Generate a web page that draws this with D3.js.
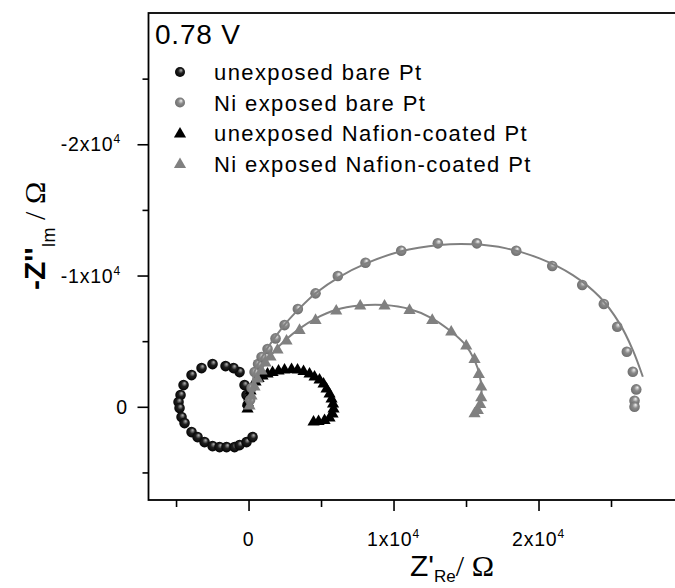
<!DOCTYPE html>
<html><head><meta charset="utf-8">
<script src="https://cdn.jsdelivr.net/npm/d3@7"></script>
<style>
body{margin:0;background:#fff}
text{font-family:"Liberation Sans",Arial,sans-serif;fill:#000}
</style>
</head><body>
<svg id="chart" width="675" height="588"></svg>
<script>
// ---- data (Z'_Re, plotted Z''_Im axis value) ----
const seriesNames = ["unexposed bare Pt","Ni exposed bare Pt","unexposed Nafion-coated Pt","Ni exposed Nafion-coated Pt"];
const potentialLabel = "0.78 V";

const bareUnexpX = [-70,-138,-276,-621,-1035,-1586,-2483,-3241,-3931,-4483,-4690,-4828,-4759,-4621,-4414,-3931,-3517,-3035,-2483,-2000,-1517,-966,-621,-138,276];
const bareUnexpY = [-130,-892,-1654,-2644,-2949,-3101,-3254,-2949,-2415,-1654,-892,-358,99,785,1242,1928,2309,2690,2995,3071,3071,3071,2918,2690,2309];

const bareNiX = [103,207,414,655,897,1310,1862,2483,3400,4621,6159,8069,10532,13056,15746,18463,20946,23015,24505,25429,26091,26505,26739,26622,26622];
const bareNiY = [-511,-1425,-2644,-3254,-3787,-4397,-5212,-6225,-7444,-8641,-9960,-10973,-11887,-12451,-12451,-11887,-10721,-9274,-7826,-6096,-4191,-2667,-1326,-457,0];
const bareNiFitX = [69,172,276,414,1221,2366,3517,4669,6277,8118,10414,13173,15470,17773,20070,22367,24208,25588,26505,27195];
const bareNiFitY = [99,-892,-1806,-2667,-4321,-6096,-7498,-8687,-9906,-10927,-11811,-12322,-12375,-12070,-11308,-10035,-8382,-6355,-4321,-2286];

const nafUnexpX = [-69,-34,34,138,276,483,690,966,1310,1655,2069,2483,2966,3379,3793,4207,4552,4897,5173,5380,5587,5725,5828,5862,5793,5587,5242,4828,4483];
const nafUnexpY = [99,-358,-815,-1273,-1654,-1958,-2225,-2416,-2568,-2682,-2797,-2873,-2911,-2873,-2758,-2568,-2339,-2111,-1806,-1425,-1044,-663,-282,99,480,785,975,1052,1090];

const nafNiX = [69,207,414,621,897,1172,1517,2000,2621,3517,4621,6049,7704,9380,11104,12670,13980,15015,15587,15884,16049,16049,15980,15815,15587];
const nafNiY = [-130,-892,-1577,-2187,-2797,-3406,-3863,-4397,-5083,-5898,-6660,-7369,-7750,-7750,-7422,-6660,-5768,-4702,-3688,-2545,-1577,-762,-259,198,457];
const nafNiFitX = [69,276,621,1104,1793,2621,3517,4621,6000,7656,9380,11104,12622,13932,14967,15587,15932,16070,16036];
const nafNiFitY = [99,-1273,-2263,-3254,-4244,-5159,-5959,-6721,-7369,-7712,-7750,-7445,-6759,-5768,-4702,-3559,-2415,-1273,-206];

const xMajorTicks = [0,10000,20000];
const xMinorTicks = [-5000,5000,15000,25000];
const yMajorTicks = [0,-10000,-20000];
const yMinorTicks = [5000,-5000,-15000,-25000];

// ---- drawing ----
const svg = d3.select("#chart");
const L = 148.5, T = 13, B = 500, R = 683.5;
const x = d3.scaleLinear().domain([-6900, 30000]).range([L, R]);
const y = d3.scaleLinear().domain([7100, -30000]).range([B, T]);

const defs = svg.append("defs");
function sphereGrad(id, hi, mid, lo){
  const g = defs.append("radialGradient").attr("id", id)
    .attr("cx","50%").attr("cy","50%").attr("r","55%").attr("fx","62%").attr("fy","30%");
  g.append("stop").attr("offset","0%").attr("stop-color",hi);
  g.append("stop").attr("offset","45%").attr("stop-color",mid);
  g.append("stop").attr("offset","100%").attr("stop-color",lo);
}
sphereGrad("gBlack","#b8b8b8","#202020","#000");
sphereGrad("gGray","#f4f4f4","#8a8a8a","#6a6a6a");
defs.append("clipPath").attr("id","plotClip").append("rect")
  .attr("x",L).attr("y",T).attr("width",R-L).attr("height",B-T);

svg.append("rect").attr("width",675).attr("height",588).attr("fill","#fff");

// ticks
function tickAxis(axis, vals, size, tx, ty){
  const g = svg.append("g").attr("transform",`translate(${tx},${ty})`)
    .call(axis.tickValues(vals).tickSize(size).tickSizeOuter(0).tickFormat(""));
  g.select(".domain").remove();
  g.selectAll(".tick line").attr("stroke","#000").attr("stroke-width",1.6);
  return g;
}
tickAxis(d3.axisBottom(x), xMajorTicks, 11, 0, B);
tickAxis(d3.axisBottom(x), xMinorTicks, 7, 0, B);
tickAxis(d3.axisLeft(y), yMajorTicks, 11, L, 0);
tickAxis(d3.axisLeft(y), yMinorTicks, 6, L, 0);

// tick labels
function label(g, v){
  if (v === 0) { g.append("tspan").text("0"); return; }
  g.append("tspan").text(`${v/10000}x10`);
  g.append("tspan").attr("dy",-8).attr("font-size",12).text("4");
}
xMajorTicks.forEach(v=>{
  const t = svg.append("text").attr("x", x(v)).attr("y", 546)
    .attr("text-anchor","middle").attr("font-size",19.5).attr("letter-spacing",0.8);
  label(t, v);
});
yMajorTicks.forEach(v=>{
  const t = svg.append("text").attr("x", v===0 ? 128 : 121).attr("y", y(v)+7)
    .attr("text-anchor","end").attr("font-size",19.5).attr("letter-spacing",0.8);
  label(t, v);
});

// frame
svg.append("rect").attr("x",L).attr("y",T).attr("width",R-L).attr("height",B-T)
  .attr("fill","none").attr("stroke","#000").attr("stroke-width",1.8);

// axis titles
const xt = svg.append("text").attr("x",410).attr("y",576).attr("font-size",30);
xt.append("tspan").text("Z'");
xt.append("tspan").attr("font-size",17).attr("dy",6).text("Re");
xt.append("tspan").attr("dy",-6).attr("font-family","'Liberation Serif','Times New Roman',serif").text("/ Ω");

const yt = svg.append("text").attr("transform","translate(45,290) rotate(-90)").attr("font-size",30);
yt.append("tspan").attr("font-weight","bold").text("-Z''");
yt.append("tspan").attr("font-size",18).attr("dy",10).text("Im");
yt.append("tspan").attr("dy",-10).attr("font-family","'Liberation Serif','Times New Roman',serif").text(" / Ω");

// data
const plot = svg.append("g").attr("clip-path","url(#plotClip)");
const lineGen = d3.line().x(d=>x(d[0])).y(d=>y(d[1])).curve(d3.curveCatmullRom);
const zip = (a,b)=>a.map((v,i)=>[v,b[i]]);
const tri = d3.symbol().type(d3.symbolTriangle).size(64);

function spheres(X, Y, grad){
  plot.append("g").selectAll("circle").data(zip(X,Y)).join("circle")
    .attr("cx",d=>x(d[0])).attr("cy",d=>y(d[1])).attr("r",5.3).attr("fill",`url(#${grad})`);
}
function triangles(X, Y, col){
  plot.append("g").selectAll("path").data(zip(X,Y)).join("path")
    .attr("d",tri).attr("transform",d=>`translate(${x(d[0])},${y(d[1])+1})`).attr("fill",col);
}
spheres(bareUnexpX, bareUnexpY, "gBlack");
triangles(nafUnexpX, nafUnexpY, "#000");
spheres(bareNiX, bareNiY, "gGray");
triangles(nafNiX, nafNiY, "#808080");
plot.append("path").datum(zip(bareNiFitX, bareNiFitY)).attr("d",lineGen)
  .attr("fill","none").attr("stroke","#808080").attr("stroke-width",2);
plot.append("path").datum(zip(nafNiFitX, nafNiFitY)).attr("d",lineGen)
  .attr("fill","none").attr("stroke","#808080").attr("stroke-width",2);

// legend
svg.append("text").attr("x",155).attr("y",44).attr("font-size",28).attr("letter-spacing",0.8).text(potentialLabel);
const legRows = [72, 102.5, 133, 163.5];
const legMarks = ["sBlack","sGray","tBlack","tGray"];
seriesNames.forEach((name,i)=>{
  const cy = legRows[i];
  const m = legMarks[i];
  if (m[0]==="s") {
    svg.append("circle").attr("cx",180).attr("cy",cy).attr("r",5)
      .attr("fill", m==="sBlack" ? "url(#gBlack)" : "url(#gGray)");
  } else {
    svg.append("path").attr("d",tri).attr("transform",`translate(180,${cy+1})`)
      .attr("fill", m==="tBlack" ? "#000" : "#808080");
  }
  svg.append("text").attr("x",214).attr("y",cy+8).attr("font-size",22).attr("letter-spacing",1.4).text(name);
});
</script>
</body></html>
